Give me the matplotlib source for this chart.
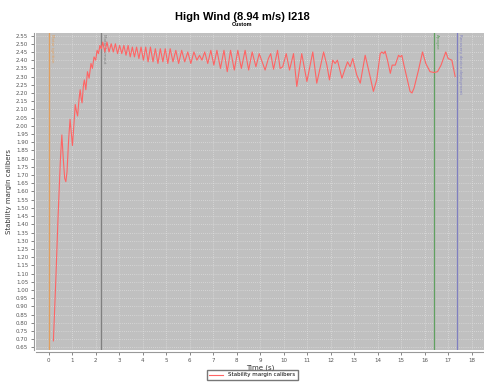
import numpy as np
import matplotlib.pyplot as plt

# Stability margin trace (vertices)
time_s = [0.20, 0.30, 0.40, 0.50, 0.56, 0.62, 0.68, 0.73, 0.78, 0.85, 0.91, 0.96, 1.01, 1.07,
          1.13, 1.18, 1.23, 1.29, 1.34, 1.38, 1.42, 1.48, 1.52, 1.58, 1.65, 1.72, 1.80, 1.86,
          1.93, 2.00, 2.06, 2.12, 2.18, 2.24,
          2.30, 2.39, 2.48, 2.57, 2.66, 2.75, 2.84, 2.93, 3.02, 3.11, 3.20, 3.29, 3.38, 3.47,
          3.56, 3.65, 3.74, 3.84, 3.93, 4.03, 4.13, 4.23, 4.33, 4.44, 4.54, 4.65, 4.75, 4.86,
          4.96, 5.07, 5.17, 5.29, 5.41, 5.53, 5.66, 5.79, 5.92, 6.05, 6.18, 6.31, 6.42, 6.52,
          6.64, 6.77, 6.90, 7.03, 7.16, 7.31, 7.46, 7.60, 7.74, 7.90, 8.05, 8.20, 8.36, 8.51,
          8.66, 8.82, 8.96,
          9.21, 9.35, 9.45, 9.57, 9.74, 9.85, 9.96, 10.11, 10.25, 10.42, 10.56, 10.77, 10.99,
          11.24, 11.41, 11.70, 11.84, 11.95, 12.09, 12.19, 12.29, 12.48, 12.62, 12.72, 12.83,
          12.94, 13.11, 13.26, 13.47, 13.68, 13.82, 13.96, 14.11, 14.18, 14.26, 14.32, 14.42,
          14.54, 14.62, 14.75, 14.89, 14.96, 15.03, 15.12, 15.25, 15.38, 15.46, 15.55, 15.74,
          15.91, 16.05, 16.23, 16.40, 16.55, 16.70, 16.90, 17.00, 17.16, 17.30]
stability = [0.69, 1.05, 1.45, 1.80, 1.945, 1.80, 1.68, 1.66, 1.72, 1.92, 2.04, 1.96, 1.88, 2.00,
             2.13, 2.09, 2.06, 2.16, 2.22, 2.17, 2.14, 2.25, 2.28, 2.22, 2.33, 2.29, 2.38, 2.35,
             2.42, 2.40, 2.46, 2.44, 2.49, 2.47,
             2.51, 2.45, 2.51, 2.45, 2.50, 2.45, 2.50, 2.44, 2.49, 2.44, 2.49, 2.43, 2.49, 2.42,
             2.48, 2.42, 2.48, 2.41, 2.48, 2.40, 2.48, 2.39, 2.48, 2.39, 2.47, 2.38, 2.47, 2.39,
             2.47, 2.38, 2.47, 2.39, 2.46, 2.38, 2.46, 2.39, 2.45, 2.38, 2.45, 2.40, 2.43, 2.40,
             2.45, 2.38, 2.46, 2.37, 2.46, 2.35, 2.46, 2.33, 2.46, 2.34, 2.46, 2.35, 2.46, 2.34,
             2.45, 2.36, 2.44,
             2.34, 2.41, 2.44, 2.345, 2.46, 2.35, 2.36, 2.44, 2.34, 2.44, 2.24, 2.44, 2.27,
             2.45, 2.26, 2.45, 2.37, 2.28, 2.40, 2.38, 2.40, 2.29, 2.35, 2.39, 2.36,
             2.41, 2.31, 2.26, 2.43, 2.30, 2.21, 2.28, 2.44, 2.45, 2.44, 2.455, 2.40,
             2.32, 2.37, 2.37, 2.43, 2.42, 2.43, 2.37, 2.29, 2.21, 2.20, 2.23, 2.34,
             2.45, 2.38, 2.33, 2.325, 2.33, 2.37, 2.45, 2.41, 2.40, 2.30]

event_names = ['Motor ignition', 'Motor burnout', 'Apogee', 'Recovery device deployment']
event_times = [0.0, 2.24, 16.38, 17.36]
event_colors = ['#E0A060', '#808080', '#60A060', '#8080C0']

fig = plt.figure(figsize=(4.85, 3.83), dpi=100)
ax = fig.add_axes([0.074, 0.086, 0.926, 0.828])
ax.set_facecolor('#C0C0C0')

for name, t, c in zip(event_names, event_times, event_colors):
    ax.axvline(t, color=c, lw=0.9, zorder=2)
    ax.text(t + 0.05, 2.562, name, rotation=270, ha='left', va='top',
            fontsize=3, color=c, zorder=3)

ax.plot(time_s, stability, color='#FF6464', lw=0.8, label='Stability margin calibers', zorder=4)

ax.set_xlim(-0.545, 18.57)
ax.set_ylim(0.634, 2.566)
ax.set_xticks(np.arange(0, 19, 1))
ax.set_yticks(np.arange(0.65, 2.56, 0.05))
ax.yaxis.set_major_formatter(plt.FormatStrFormatter('%.2f'))
ax.grid(True, color='#E8E8E8', linestyle=(0, (1, 2)), lw=0.5)
ax.tick_params(labelsize=4, colors='#555555', length=2, width=0.5, pad=2)

for s in ['top', 'right']:
    ax.spines[s].set_visible(False)
for s in ['left', 'bottom']:
    ax.spines[s].set_position(('outward', 1.5))
    ax.spines[s].set_color('#999999')
    ax.spines[s].set_linewidth(0.8)

ax.set_xlabel('Time (s)', fontsize=5, color='#333333', labelpad=1)
ax.set_ylabel('Stability margin calibers', fontsize=5, color='#333333', labelpad=3)

fig.text(0.5, 0.955, 'High Wind (8.94 m/s) I218', ha='center', va='center',
         fontsize=8, fontweight='bold', family='Liberation Sans')
fig.text(0.5, 0.935, 'Custom', ha='center', va='center', fontsize=4,
         fontweight='bold', family='Liberation Sans')

fig.legend(loc='lower center', bbox_to_anchor=(0.52, 0.0), fontsize=4, frameon=True,
           fancybox=False, edgecolor='#555555', handlelength=2.5, borderpad=0.5)

fig.savefig('out.png', dpi=100)
